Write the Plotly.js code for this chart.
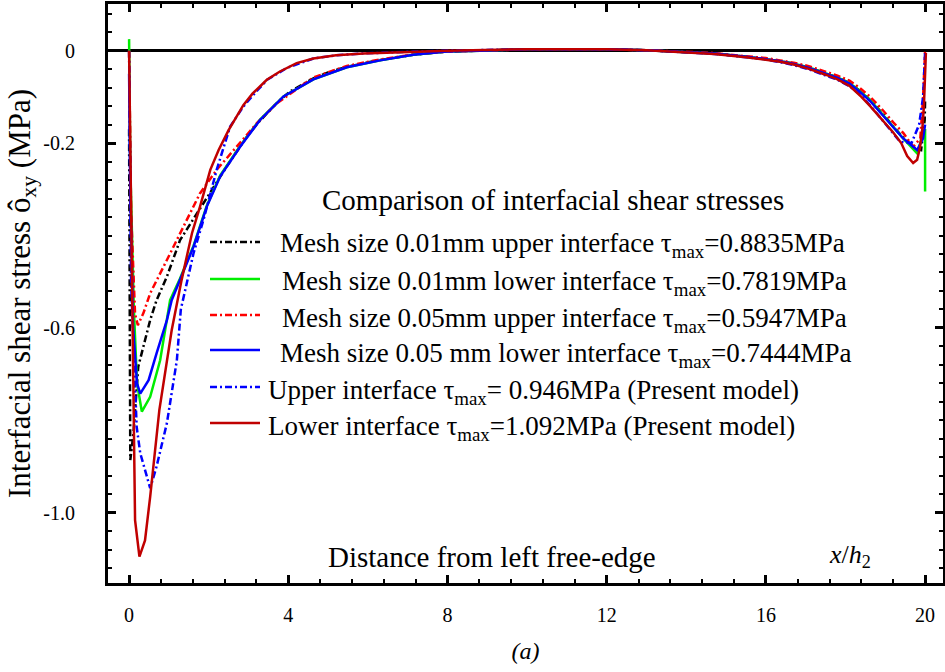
<!DOCTYPE html>
<html>
<head>
<meta charset="utf-8">
<script src="https://cdn.plot.ly/plotly-3.0.1.min.js"></script>
<style>html,body{margin:0;padding:0;background:#fff;}#chart{width:945px;height:672px;}</style>
</head>
<body>
<div id="chart"></div>
<script>
// ---- data (x = x/h2, y = interfacial shear stress, MPa) ----
const blackX = [0, 0.01, 0.03, 0.11, 0.23, 0.36, 0.53, 0.69, 0.95, 1.28, 1.70, 2.12, 2.45, 2.96, 3.2, 3.46, 3.75, 4.05, 4.63, 5.0, 5.47, 6.31, 7.14, 7.98, 8.82, 10, 11, 12, 13, 13.7, 14.7, 15.5, 16.0, 16.36, 16.7, 17.1, 17.5, 17.8, 18.1, 18.35, 18.62, 18.9, 19.2, 19.45, 19.75, 19.9, 19.99, 20.0];
const blackY = [-0.17, -0.6, -0.886, -0.828, -0.684, -0.64, -0.583, -0.54, -0.489, -0.41, -0.352, -0.294, -0.251, -0.186, -0.16, -0.136, -0.11, -0.088, -0.06, -0.047, -0.035, -0.02, -0.009, -0.002, 0.0, 0.003, 0.003, 0.003, 0.001, -0.002, -0.006, -0.013, -0.018, -0.023, -0.028, -0.037, -0.049, -0.058, -0.07, -0.086, -0.107, -0.133, -0.164, -0.188, -0.211, -0.215, -0.15, -0.107];

const greenX = [0, 0.01, 0.03, 0.12, 0.2, 0.32, 0.53, 0.78, 1.03, 1.28, 1.62, 1.95, 2.29, 2.79, 3.29, 3.88, 4.63, 5.47, 6.31, 7.14, 7.98, 8.82, 10, 11, 12, 13, 13.7, 14.7, 15.5, 16.0, 16.36, 16.7, 17.1, 17.5, 17.8, 18.1, 18.35, 18.62, 18.9, 19.2, 19.45, 19.65, 19.8, 19.98, 20.0, 20.0];
const greenY = [0.025, -0.05, -0.25, -0.56, -0.72, -0.781, -0.749, -0.67, -0.54, -0.493, -0.422, -0.336, -0.27, -0.206, -0.149, -0.099, -0.062, -0.036, -0.021, -0.009, -0.002, 0.0, 0.003, 0.003, 0.003, 0.001, -0.002, -0.006, -0.013, -0.018, -0.023, -0.028, -0.037, -0.049, -0.058, -0.07, -0.086, -0.107, -0.134, -0.165, -0.19, -0.208, -0.222, -0.172, -0.172, -0.305];

const redDdX = [0, 0.05, 0.15, 0.22, 0.36, 0.53, 0.95, 1.37, 1.78, 2.2, 2.62, 3.21, 3.71, 4.3, 4.63, 5.47, 6.31, 7.14, 7.98, 8.82, 10, 11, 12, 13, 13.7, 14.7, 15.5, 16.0, 16.36, 16.7, 17.1, 17.5, 17.8, 18.1, 18.35, 18.62, 18.9, 19.2, 19.45, 19.7, 19.88, 19.95, 20.0];
const redDdY = [0, -0.35, -0.57, -0.594, -0.568, -0.525, -0.453, -0.381, -0.309, -0.258, -0.215, -0.157, -0.114, -0.077, -0.058, -0.033, -0.019, -0.008, -0.002, 0.0, 0.003, 0.003, 0.003, 0.001, -0.002, -0.005, -0.012, -0.016, -0.021, -0.026, -0.034, -0.045, -0.054, -0.065, -0.08, -0.1, -0.125, -0.155, -0.178, -0.208, -0.19, -0.1, 0.0];

const blueX = [0, 0.03, 0.1, 0.2, 0.28, 0.49, 0.69, 0.95, 1.07, 1.28, 1.62, 1.95, 2.29, 2.79, 3.29, 3.88, 4.63, 5.47, 6.31, 7.14, 7.98, 8.82, 10, 11, 12, 13, 13.7, 14.7, 15.5, 16.0, 16.36, 16.7, 17.1, 17.5, 17.8, 18.1, 18.35, 18.62, 18.9, 19.2, 19.45, 19.8, 19.95, 20.0];
const blueY = [-0.05, -0.3, -0.6, -0.72, -0.742, -0.713, -0.655, -0.583, -0.54, -0.496, -0.424, -0.338, -0.272, -0.208, -0.15, -0.099, -0.062, -0.036, -0.021, -0.009, -0.002, 0.0, 0.003, 0.003, 0.003, 0.001, -0.002, -0.006, -0.013, -0.018, -0.023, -0.029, -0.038, -0.05, -0.059, -0.071, -0.088, -0.109, -0.136, -0.167, -0.19, -0.215, -0.19, -0.16];

const blueDdX = [0, 0.05, 0.19, 0.28, 0.53, 0.69, 0.95, 1.2, 1.3, 1.62, 1.87, 2.2, 2.54, 2.87, 3.2, 3.47, 3.97, 4.63, 5.2, 5.89, 7.14, 8.0, 10, 11, 12, 13, 13.7, 14.7, 15.5, 16.0, 16.36, 16.7, 17.1, 17.5, 17.8, 18.1, 18.4, 18.78, 19.1, 19.37, 19.66, 19.85, 19.95, 20.0];
const blueDdY = [0, -0.5, -0.814, -0.871, -0.947, -0.9, -0.806, -0.67, -0.56, -0.438, -0.366, -0.258, -0.164, -0.121, -0.088, -0.063, -0.037, -0.017, -0.01, -0.006, -0.002, 0.0, 0.003, 0.003, 0.003, 0.001, -0.002, -0.007, -0.014, -0.019, -0.025, -0.031, -0.041, -0.053, -0.063, -0.077, -0.097, -0.135, -0.168, -0.197, -0.2, -0.16, -0.1, -0.003];

const redX = [0, 0.07, 0.15, 0.26, 0.4, 0.53, 0.76, 1.07, 1.32, 1.58, 1.78, 2.04, 2.25, 2.5, 2.7, 2.87, 3.1, 3.46, 3.79, 4.21, 4.63, 5.2, 5.89, 7.14, 8.0, 10, 11, 12, 13, 13.7, 14.7, 15.5, 16.0, 16.36, 16.7, 17.1, 17.5, 17.8, 18.1, 18.4, 18.62, 18.9, 19.2, 19.4, 19.55, 19.7, 19.8, 19.87, 19.93, 19.97, 20.02];
const redY = [0, -0.54, -1.016, -1.095, -1.06, -0.965, -0.778, -0.605, -0.496, -0.395, -0.338, -0.258, -0.215, -0.172, -0.143, -0.118, -0.093, -0.063, -0.045, -0.027, -0.017, -0.01, -0.006, -0.002, 0.0, 0.003, 0.003, 0.003, 0.001, -0.002, -0.007, -0.014, -0.019, -0.024, -0.03, -0.04, -0.052, -0.062, -0.076, -0.1, -0.12, -0.147, -0.177, -0.2, -0.228, -0.243, -0.236, -0.21, -0.17, -0.12, -0.005];

const seriesNames = [
  'Mesh size 0.01mm upper interface τ<sub>max</sub>=0.8835MPa',
  'Mesh size 0.01mm lower interface τ<sub>max</sub>=0.7819MPa',
  'Mesh size 0.05mm upper interface τ<sub>max</sub>=0.5947MPa',
  'Mesh size 0.05 mm lower interface τ<sub>max</sub>=0.7444MPa',
  'Upper interface τ<sub>max</sub>= 0.946MPa (Present model)',
  'Lower interface τ<sub>max</sub>=1.092MPa (Present model)'
];
const xTickVals = [0, 4, 8, 12, 16, 20];
const yTickVals = [0, -0.2, -0.6, -1.0];
const yTickText = ['0', '-0.2', '-0.6', '-1.0'];

// ---- styles ----
const colors = ['#000000', '#00ee00', '#ff0000', '#0000ff', '#0000ff', '#c00000'];
const dashes = ['7px,3px,2px,3px', 'solid', '7px,3px,2px,3px', 'solid', '7px,3px,2px,3px', 'solid'];
const xs = [blackX, greenX, redDdX, blueX, blueDdX, redX];
const ys = [blackY, greenY, redDdY, blueY, blueDdY, redY];

const traces = xs.map((x, i) => ({
  type: 'scatter', mode: 'lines', x: x, y: ys[i], name: seriesNames[i],
  line: {color: colors[i], width: 2.5, dash: dashes[i]}, showlegend: false, hoverinfo: 'skip'
}));

// plot-area pixel helpers (for annotation / legend placement only)
const L = 108, R = 943, T = 4, B = 583;
const px = v => (v - L) / (R - L);
const py = v => (B - v) / (B - T);

const FONT = '"Liberation Serif", "Times New Roman", Times, serif';
const legendRows = [
  {ly: 242, tx: 278, ty: 245},
  {ly: 279, tx: 280, ty: 283},
  {ly: 315, tx: 280, ty: 320},
  {ly: 350, tx: 278, ty: 355},
  {ly: 387, tx: 266, ty: 392},
  {ly: 423, tx: 266, ty: 428}
];

const shapes = legendRows.map((r, i) => ({
  type: 'line', xref: 'paper', yref: 'paper',
  x0: px(210), x1: px(260), y0: py(r.ly), y1: py(r.ly),
  line: {color: colors[i], width: 2.5, dash: dashes[i]}
}));

const annotations = legendRows.map((r, i) => ({
  xref: 'paper', yref: 'paper', x: px(r.tx), y: py(r.ty), xanchor: 'left', yanchor: 'middle',
  text: seriesNames[i], showarrow: false, font: {family: FONT, size: 27, color: '#000'}
}));
annotations.push(
  {xref: 'paper', yref: 'paper', x: px(553), y: py(200), xanchor: 'center', yanchor: 'middle',
   text: 'Comparison of interfacial shear stresses', showarrow: false, font: {family: FONT, size: 29, color: '#000'}},
  {xref: 'paper', yref: 'paper', x: px(492), y: py(557), xanchor: 'center', yanchor: 'middle',
   text: 'Distance from left free-edge', showarrow: false, font: {family: FONT, size: 29, color: '#000'}},
  {xref: 'paper', yref: 'paper', x: px(850), y: py(556), xanchor: 'center', yanchor: 'middle',
   text: '<i>x</i>/<i>h</i><sub>2</sub>', showarrow: false, font: {family: FONT, size: 26, color: '#000'}}
);

const layout = {
  width: 945, height: 672,
  margin: {l: L, r: 945 - R, t: T, b: 672 - B, pad: 0},
  paper_bgcolor: '#fff', plot_bgcolor: '#fff',
  font: {family: FONT, size: 20, color: '#000'},
  showlegend: false,
  xaxis: {
    range: [-0.53, 20.45], tickvals: xTickVals, ticktext: xTickVals.map(String),
    ticks: 'inside', ticklen: 8, tickwidth: 2.5, tickcolor: '#000',
    minor: {dtick: 0.8, tick0: 0, ticks: 'inside', ticklen: 4, tickwidth: 2, tickcolor: '#000', showgrid: false},
    showline: true, linecolor: '#000', linewidth: 3, mirror: 'allticks',
    showgrid: false, zeroline: false, ticklabelstandoff: 12,
    tickfont: {family: FONT, size: 20, color: '#000'},
    title: {text: '<i>(a)</i>', font: {family: FONT, size: 24, color: '#000'}, standoff: 18}
  },
  yaxis: {
    range: [-1.152, 0.101], tickvals: yTickVals, ticktext: yTickText,
    ticks: 'inside', ticklen: 8, tickwidth: 2.5, tickcolor: '#000',
    minor: {dtick: 0.04, tick0: 0, ticks: 'inside', ticklen: 4, tickwidth: 2, tickcolor: '#000', showgrid: false},
    showline: true, linecolor: '#000', linewidth: 3, mirror: 'allticks',
    showgrid: false, zeroline: true, zerolinecolor: '#000', zerolinewidth: 2.5,
    ticklabelstandoff: 26,
    tickfont: {family: FONT, size: 20, color: '#000'},
    title: {text: 'Interfacial shear stress ô<sub>xy</sub> (MPa)\u00a0\u00a0\u00a0\u00a0\u00a0', font: {family: FONT, size: 31, color: '#000'}, standoff: 4}
  },
  shapes: shapes,
  annotations: annotations
};

Plotly.newPlot('chart', traces, layout, {displayModeBar: false});
</script>
</body>
</html>
